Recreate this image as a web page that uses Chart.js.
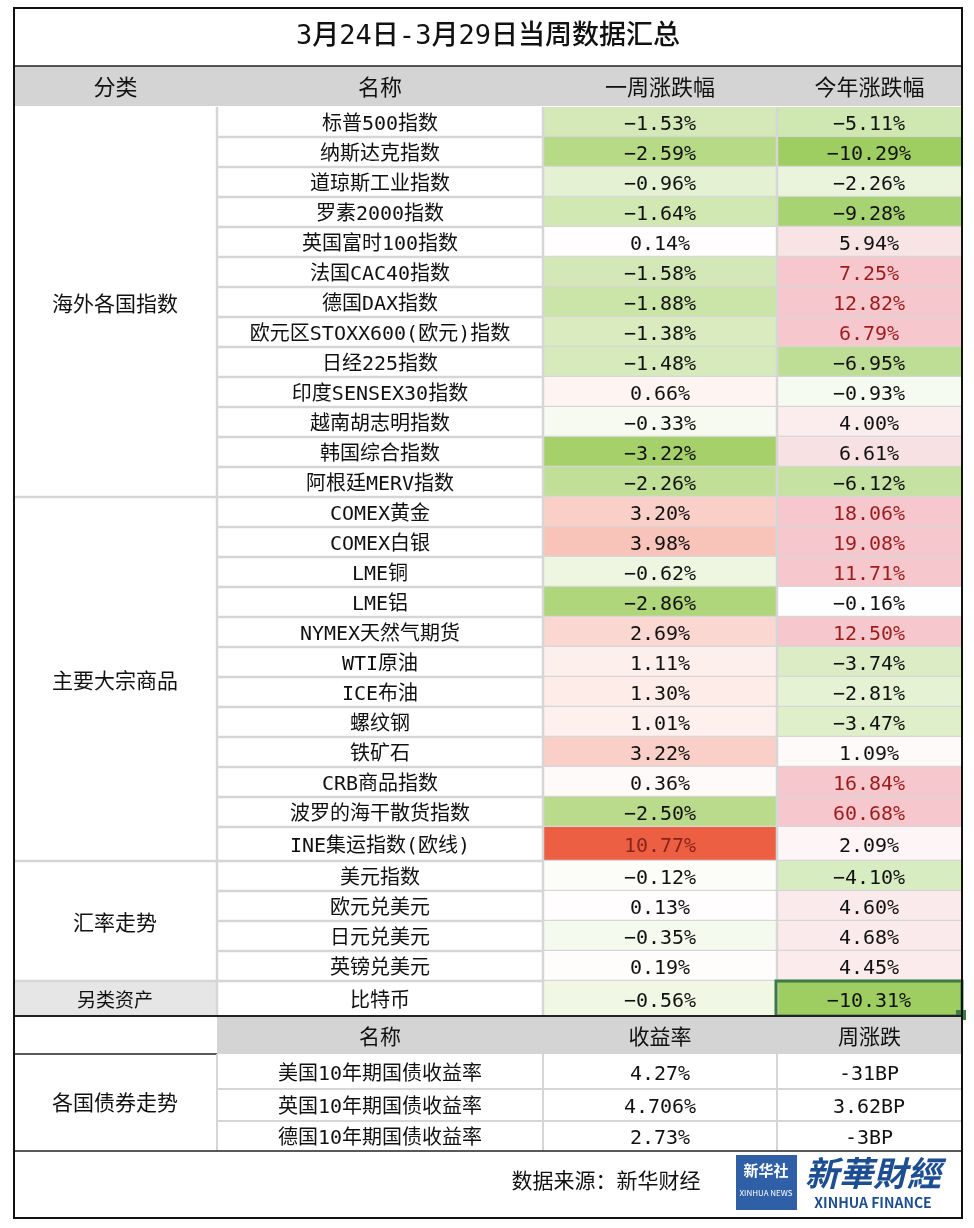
<!DOCTYPE html>
<html>
<head>
<meta charset="utf-8">
<script src="https://cdn.jsdelivr.net/npm/chart.js@4"></script>
<style>
html,body{margin:0;padding:0;background:#fff;}
#wrap{width:974px;height:1228px;position:relative;}
</style>
</head>
<body>
<div id="wrap"><canvas id="table"></canvas></div>
<script>
var title = '3月24日-3月29日当周数据汇总';
var headers = ['分类', '名称', '一周涨跌幅', '今年涨跌幅'];
var names = ['标普500指数', '纳斯达克指数', '道琼斯工业指数', '罗素2000指数', '英国富时100指数', '法国CAC40指数', '德国DAX指数',
    '欧元区STOXX600(欧元)指数', '日经225指数', '印度SENSEX30指数', '越南胡志明指数', '韩国综合指数', '阿根廷MERV指数',
    'COMEX黄金', 'COMEX白银', 'LME铜', 'LME铝', 'NYMEX天然气期货', 'WTI原油', 'ICE布油', '螺纹钢', '铁矿石', 'CRB商品指数',
    '波罗的海干散货指数', 'INE集运指数(欧线)', '美元指数', '欧元兑美元', '日元兑美元', '英镑兑美元', '比特币'];
var weekChg = [-1.53, -2.59, -0.96, -1.64, 0.14, -1.58, -1.88, -1.38, -1.48, 0.66, -0.33, -3.22, -2.26,
    3.20, 3.98, -0.62, -2.86, 2.69, 1.11, 1.30, 1.01, 3.22, 0.36, -2.50, 10.77, -0.12, 0.13, -0.35, 0.19, -0.56];
var yearChg = [-5.11, -10.29, -2.26, -9.28, 5.94, 7.25, 12.82, 6.79, -6.95, -0.93, 4.00, 6.61, -6.12,
    18.06, 19.08, 11.71, -0.16, 12.50, -3.74, -2.81, -3.47, 1.09, 16.84, 60.68, 2.09, -4.10, 4.60, 4.68, 4.45, -10.31];
// rows flagged with red text in the year column
var yearRed = [5, 6, 7, 13, 14, 15, 17, 22, 23];
var groups = [['海外各国指数', 0, 12], ['主要大宗商品', 13, 24], ['汇率走势', 25, 28], ['另类资产', 29, 29]];
var bondHeaders = ['名称', '收益率', '周涨跌'];
var bondNames = ['美国10年期国债收益率', '英国10年期国债收益率', '德国10年期国债收益率'];
var bondYield = ['4.27%', '4.706%', '2.73%'];
var bondChg = ['-31BP', '3.62BP', '-3BP'];
var source = '数据来源：新华财经';

// layout (pixels in chart units)
var colX = [14, 217, 543, 777, 962];
var rowH = [];
for (var i = 0; i < 30; i++) rowH.push(i == 24 ? 34 : (i == 29 ? 35 : 30));
var FONT = '"Noto Sans CJK SC", sans-serif';
var MONO = '"DejaVu Sans Mono", "Noto Sans CJK SC", monospace';

function mix(a, b, t) {
    t = Math.max(0, Math.min(1, t));
    return 'rgb(' + a.map(function (v, k) { return Math.round(v + (b[k] - v) * t); }).join(',') + ')';
}
var WHITE = [255, 255, 255];
function weekColor(v) {
    if (v < 0) return mix(WHITE, [166, 209, 106], v / -3.22);
    return mix(WHITE, [236, 95, 67], v / 10.77);
}
function yearColor(v, i) {
    if (yearRed.indexOf(i) >= 0) return '#f6c7cd';
    if (v < 0) return mix(WHITE, [158, 206, 98], v / -10.31);
    return mix(WHITE, [246, 214, 216], v / 9);
}
function pct(v) { return (v < 0 ? '−' : '') + Math.abs(v).toFixed(2) + '%'; }

var tablePlugin = {
    id: 'table',
    afterDraw: function (chart) {
        var c = chart.ctx, sx = chart.scales.x, sy = chart.scales.y;
        function X(v) { return sx.getPixelForValue(v); }
        function Y(v) { return sy.getPixelForValue(v); }
        function rect(x0, y0, x1, y1, fill) {
            c.fillStyle = fill;
            c.fillRect(X(x0), Y(y0), X(x1) - X(x0), Y(y1) - Y(y0));
        }
        function text(s, x, y, size, color, weight, fam) {
            c.font = (weight || '') + ' ' + size + 'px ' + (fam || FONT);
            c.fillStyle = color || '#111';
            c.textAlign = 'center';
            c.textBaseline = 'middle';
            c.fillText(s, X(x), Y(fam ? y + 2 : y));
        }
        function hline(x0, x1, y, col, w) {
            c.strokeStyle = col; c.lineWidth = w;
            c.beginPath(); c.moveTo(X(x0), Y(y)); c.lineTo(X(x1), Y(y)); c.stroke();
        }
        function vline(x, y0, y1, col, w) {
            c.strokeStyle = col; c.lineWidth = w;
            c.beginPath(); c.moveTo(X(x), Y(y0)); c.lineTo(X(x), Y(y1)); c.stroke();
        }
        var GRID = '#d6d6d6';
        // title
        text(title, 488, 35, 27, '#111', '500', MONO);
        // header
        rect(14, 66, 962, 106, '#d4d4d4');
        for (var k = 0; k < 4; k++) text(headers[k], (colX[k] + colX[k + 1]) / 2, 87, 22);
        // data rows
        var y = 107, tops = [];
        for (var i = 0; i < names.length; i++) {
            var y1 = y + rowH[i];
            tops.push(y);
            rect(543, y, 777, y1, weekColor(weekChg[i]));
            rect(777, y, 962, y1, yearColor(yearChg[i], i));
            var my = (y + y1) / 2 + 1;
            text(names[i], 380, my, 20, '#111', '', MONO);
            text(pct(weekChg[i]), 660, my, 20, i == 24 ? '#8a2418' : '#111', '', MONO);
            text(pct(yearChg[i]), 869, my, 20, yearRed.indexOf(i) >= 0 ? '#9c1c1c' : '#111', '', MONO);
            if (i < names.length - 1) hline(217, 962, y1, GRID, 2.5);
            y = y1;
        }
        tops.push(y);
        var dataEnd = y;
        // group labels
        rect(14, tops[29], 217, tops[30], '#e6e6e6');
        groups.forEach(function (g, n) {
            text(g[0], 115, (tops[g[1]] + tops[g[2] + 1]) / 2 + 1, n == 3 ? 19 : 21);
            if (n < groups.length - 1) hline(14, 217, tops[g[2] + 1], GRID, 2.5);
        });
        vline(217, 107, dataEnd, GRID, 2.5);
        vline(543, 107, dataEnd, GRID, 2.5);
        vline(777, 107, dataEnd, GRID, 2.5);
        // selected cell
        c.strokeStyle = '#3d7a45'; c.lineWidth = 3;
        c.strokeRect(X(776), Y(tops[29]), X(962) - X(776), Y(tops[30]) - Y(tops[29]));
        rect(956, tops[30] - 6, 966, tops[30] + 4, '#3d7a45');
        // bond section
        var hb0 = dataEnd, hb1 = hb0 + 38;
        rect(217, hb0 + 1, 962, hb1, '#d4d4d4');
        var bx = [217, 543, 777, 962];
        for (k = 0; k < 3; k++) text(bondHeaders[k], (bx[k] + bx[k + 1]) / 2, (hb0 + hb1) / 2 + 1, 21);
        hline(14, 962, hb0, '#222', 2);
        hline(14, 217, hb1, '#222', 1.5);
        var by = [hb1, hb1 + 35, hb1 + 67, hb1 + 97];
        for (i = 0; i < 3; i++) {
            var m = (by[i] + by[i + 1]) / 2 + 1;
            text(bondNames[i], 380, m, 20, '#111', '', MONO);
            text(bondYield[i], 660, m, 20, '#111', '', MONO);
            text(bondChg[i], 869, m, 20, '#111', '', MONO);
            if (i < 2) hline(217, 962, by[i + 1], GRID, 2);
        }
        text('各国债券走势', 115, (by[0] + by[3]) / 2, 21);
        vline(217, hb1, by[3], GRID, 2);
        vline(543, hb1, by[3], GRID, 2);
        vline(777, hb1, by[3], GRID, 2);
        hline(14, 962, by[3], '#222', 1.5);
        // footer
        text(source, 606, 1180, 21);
        rect(736, 1155, 797, 1210, '#2f5fa6');
        text('新华社', 766, 1170, 15, '#fff', 'bold');
        text('XINHUA NEWS', 766, 1193, 8, '#fff');
        c.font = 'italic bold 34px ' + FONT;
        c.fillStyle = '#1d4e91'; c.textAlign = 'center'; c.textBaseline = 'middle';
        c.fillText('新華財經', X(873), Y(1173));
        text('XINHUA FINANCE', 873, 1203, 14, '#1d4e91', 'bold');
        // outer frame
        hline(14, 962, 66, '#222', 1.5);
        c.strokeStyle = '#111'; c.lineWidth = 2;
        c.strokeRect(X(14), Y(8), X(962) - X(14), Y(1218) - Y(8));
    }
};

new Chart(document.getElementById('table').getContext('2d'), {
    type: 'scatter',
    data: { datasets: [{ data: [], pointRadius: 0 }] },
    options: {
        responsive: true,
        maintainAspectRatio: false,
        animation: false,
        layout: { padding: 0 },
        plugins: { legend: { display: false }, tooltip: { enabled: false } },
        scales: {
            x: { type: 'linear', min: 0, max: 974, display: false },
            y: { type: 'linear', min: 0, max: 1228, reverse: true, display: false }
        }
    },
    plugins: [tablePlugin]
});
</script>
</body>
</html>
